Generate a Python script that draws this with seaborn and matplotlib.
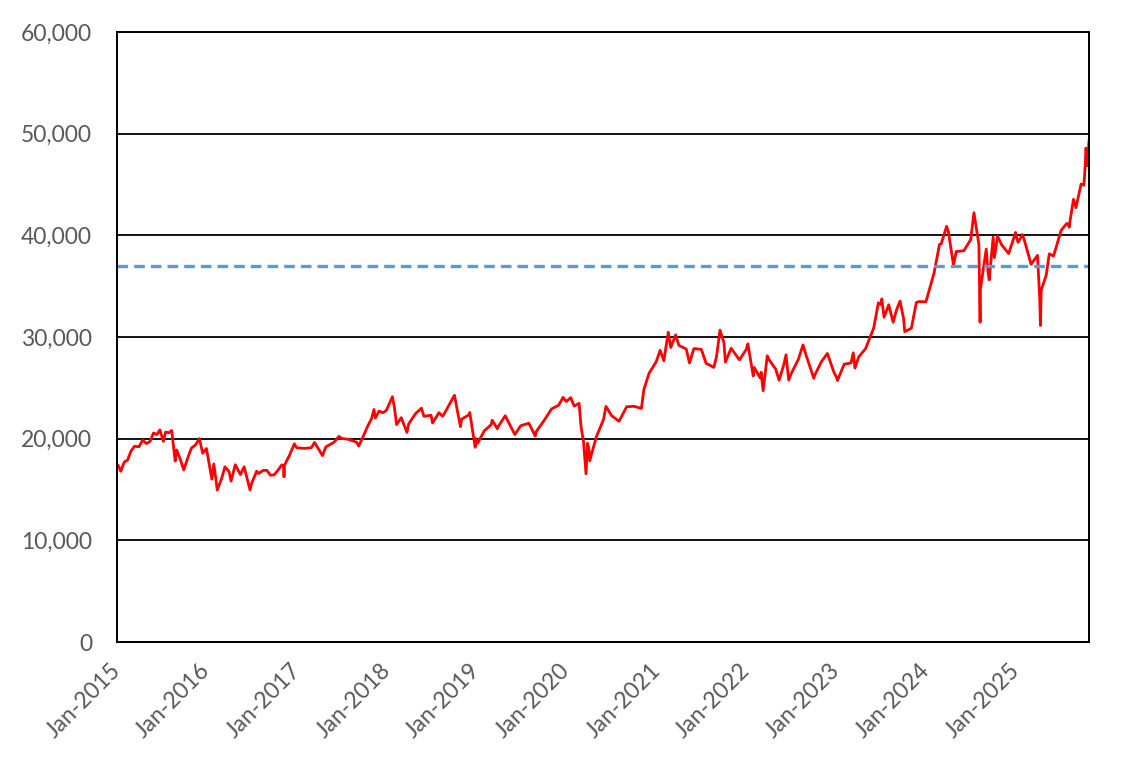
import pandas as pd
import seaborn as sns
import matplotlib.pyplot as plt
import matplotlib.dates as mdates
from matplotlib.ticker import FuncFormatter

# Index level (approximate closes)
dates = [
    "2015-01-05", "2015-01-16", "2015-01-30", "2015-02-13", "2015-02-27", "2015-03-13", "2015-03-31",
    "2015-04-15", "2015-04-30", "2015-05-15", "2015-05-29", "2015-06-12", "2015-06-24", "2015-07-08",
    "2015-07-17", "2015-07-31", "2015-08-11", "2015-08-25", "2015-08-31", "2015-09-15", "2015-09-29",
    "2015-10-15", "2015-10-30", "2015-11-16", "2015-12-01", "2015-12-15", "2015-12-30",
    "2016-01-21", "2016-01-29", "2016-02-12", "2016-02-29", "2016-03-14", "2016-03-31", "2016-04-08",
    "2016-04-25", "2016-05-16", "2016-05-31", "2016-06-24", "2016-06-30", "2016-07-21", "2016-07-29",
    "2016-08-15", "2016-08-31", "2016-09-15", "2016-09-30", "2016-10-14", "2016-10-31", "2016-11-08",
    "2016-11-09", "2016-11-10", "2016-11-30", "2016-12-21", "2016-12-30",
    "2017-01-31", "2017-02-28", "2017-03-13", "2017-03-31", "2017-04-14", "2017-04-28", "2017-05-31",
    "2017-06-20", "2017-06-30", "2017-07-31", "2017-08-31", "2017-09-08", "2017-09-29", "2017-10-13",
    "2017-10-31", "2017-11-09", "2017-11-15", "2017-11-30", "2017-12-15", "2017-12-29",
    "2018-01-23", "2018-01-31", "2018-02-09", "2018-02-28", "2018-03-23", "2018-03-30", "2018-04-27",
    "2018-05-21", "2018-05-31", "2018-06-29", "2018-07-05", "2018-07-31", "2018-08-15", "2018-08-31",
    "2018-09-28", "2018-10-02", "2018-10-26", "2018-10-31", "2018-11-30", "2018-12-03", "2018-12-25",
    "2018-12-28",
    "2019-01-04", "2019-01-31", "2019-02-28", "2019-03-04", "2019-03-25", "2019-03-29", "2019-04-26",
    "2019-05-31", "2019-06-04", "2019-06-28", "2019-07-31", "2019-08-26", "2019-08-30", "2019-09-30",
    "2019-10-31", "2019-11-29", "2019-12-17", "2019-12-30",
    "2020-01-17", "2020-01-31", "2020-02-20", "2020-02-28", "2020-03-09", "2020-03-19", "2020-03-25",
    "2020-03-31", "2020-04-03", "2020-04-30", "2020-05-29", "2020-06-08", "2020-06-30", "2020-07-31",
    "2020-08-31", "2020-09-30", "2020-10-30", "2020-11-09", "2020-11-30", "2020-12-29",
    "2021-01-14", "2021-01-29", "2021-02-16", "2021-02-26", "2021-03-18", "2021-03-31", "2021-04-30",
    "2021-05-13", "2021-05-31", "2021-06-30", "2021-07-20", "2021-07-30", "2021-08-20", "2021-08-31",
    "2021-09-14", "2021-09-30", "2021-10-06", "2021-10-29", "2021-11-30", "2021-12-02", "2021-12-30",
    "2022-01-05", "2022-01-27", "2022-01-31", "2022-02-24", "2022-02-28", "2022-03-08", "2022-03-25",
    "2022-03-31", "2022-04-28", "2022-05-12", "2022-05-31", "2022-06-09", "2022-06-20", "2022-06-30",
    "2022-07-29", "2022-08-17", "2022-08-31", "2022-09-30", "2022-10-03", "2022-10-31", "2022-11-24",
    "2022-11-30", "2022-12-20", "2022-12-30",
    "2023-01-04", "2023-01-31", "2023-02-28", "2023-03-09", "2023-03-16", "2023-03-31", "2023-04-28",
    "2023-05-31", "2023-06-19", "2023-06-30", "2023-07-03", "2023-07-12", "2023-07-31", "2023-08-18",
    "2023-08-31", "2023-09-15", "2023-09-29", "2023-10-04", "2023-10-31", "2023-11-20", "2023-11-30",
    "2023-12-29",
    "2024-01-31", "2024-02-22", "2024-02-29", "2024-03-22", "2024-03-29", "2024-04-19", "2024-04-30",
    "2024-05-31", "2024-06-28", "2024-07-11", "2024-07-31", "2024-08-02", "2024-08-05", "2024-08-06",
    "2024-08-30", "2024-09-06", "2024-09-11", "2024-09-27", "2024-10-02", "2024-10-15", "2024-10-31",
    "2024-11-29", "2024-12-27", "2024-12-30",
    "2025-01-06", "2025-01-24", "2025-01-31", "2025-02-28", "2025-03-26", "2025-03-31", "2025-04-04",
    "2025-04-07", "2025-04-10", "2025-04-30", "2025-05-13", "2025-05-30", "2025-06-30", "2025-07-23",
    "2025-07-31", "2025-08-01", "2025-08-19", "2025-08-29", "2025-09-19", "2025-09-30", "2025-10-03",
    "2025-10-09", "2025-10-14", "2025-10-17", "2025-10-21",
]
values = [
    17408, 16795, 17674, 17913, 18798, 19254, 19207,
    19870, 19520, 19733, 20563, 20407, 20868, 19737,
    20650, 20585, 20808, 17806, 18890, 17965, 16930,
    18097, 19083, 19393, 20012, 18565, 19034,
    16017, 17518, 14953, 16027, 17233, 16759, 15821,
    17440, 16466, 17235, 14952, 15576, 16811, 16569,
    16870, 16887, 16405, 16450, 16856, 17425, 17171,
    16251, 17344, 18308, 19494, 19114,
    19041, 19119, 19634, 18909, 18335, 19197, 19651,
    20230, 20033, 19925, 19646, 19275, 20356, 21155,
    22012, 22868, 22028, 22725, 22553, 22765,
    24124, 23098, 21383, 22068, 20617, 21454, 22468,
    23002, 22202, 22305, 21547, 22554, 22204, 22865,
    24120, 24270, 21184, 21920, 22351, 22574, 19155,
    20015,
    19562, 20773, 21385, 21822, 20977, 21206, 22259,
    20601, 20408, 21276, 21522, 20261, 20704, 21756,
    22927, 23294, 24066, 23657,
    24041, 23205, 23479, 21143, 19698, 16553, 19546,
    18917, 17820, 20194, 21878, 23178, 22288, 21710,
    23140, 23185, 22977, 24839, 26434, 27568,
    28698, 27663, 30468, 28966, 30216, 29179, 28813,
    27448, 28860, 28792, 27388, 27284, 27013, 28090,
    30670, 29453, 27528, 28893, 27822, 27753, 28792,
    29332, 26170, 27002, 25970, 26527, 24718, 28149,
    27821, 26848, 25748, 27280, 28246, 25771, 26393,
    27802, 29222, 28092, 25937, 26216, 27587, 28383,
    27969, 26568, 26095,
    25717, 27327, 27446, 28444, 26945, 28041, 28856,
    30888, 33370, 33189, 33753, 31943, 33172, 31450,
    32619, 33533, 31858, 30526, 30859, 33388, 33487,
    33464,
    36286, 39098, 39166, 40888, 40369, 37068, 38405,
    38488, 39583, 42224, 39102, 35909, 31458, 34675,
    38648, 36391, 35619, 39830, 37808, 39911, 39081,
    38208, 40281, 39894,
    39307, 40069, 39572, 37155, 38027, 35617, 33780,
    31136, 34609, 36045, 38183, 37965, 40487, 41171,
    41069, 40800, 43546, 42718, 45045, 44932, 45769,
    48580, 46847, 47582, 49316,
]
reference_level = 37000
year_ticks = [f"{y}-01-01" for y in range(2015, 2026)]

df = pd.DataFrame({"date": pd.to_datetime(dates), "value": values})

sns.set_style("white")
plt.rcParams["font.family"] = ["Lato", "DejaVu Sans"]

fig = plt.figure(figsize=(11.44, 7.69), dpi=100)
ax = fig.add_axes([0.1023, 0.1651, 0.8496, 0.7933])

sns.lineplot(data=df, x="date", y="value", color="#FF0000", linewidth=2.0, ax=ax)
ax.axhline(reference_level, color="#5B9BD5", linewidth=2.4, linestyle=(0, (3.2, 1.8)))

ax.set_ylim(0, 60000)
ax.set_xlim(pd.Timestamp("2015-01-01"), df["date"].iloc[-1])
ax.set_yticks(range(0, 60001, 10000))
ax.yaxis.set_major_formatter(FuncFormatter(lambda v, p: f"{v:,.0f}"))
ax.set_xticks(pd.to_datetime(year_ticks))
ax.xaxis.set_major_formatter(mdates.DateFormatter("%b-%Y"))

ax.grid(axis="y", color="black", linewidth=1.3)
ax.set_axisbelow(True)
for side in ["left", "bottom", "right", "top"]:
    ax.spines[side].set_color("black")
    ax.spines[side].set_linewidth(1.4)

ax.tick_params(axis="both", direction="out", length=7, width=1.4, color="black",
               labelsize=16.5, labelcolor="#595959")
ax.tick_params(axis="y", pad=11)
ax.tick_params(axis="x", pad=11)
for lbl in ax.get_xticklabels():
    lbl.set_rotation(45)
    lbl.set_ha("right")
    lbl.set_va("center")
    lbl.set_rotation_mode("anchor")

ax.set_xlabel("")
ax.set_ylabel("")

fig.savefig("out.png", dpi=100)
